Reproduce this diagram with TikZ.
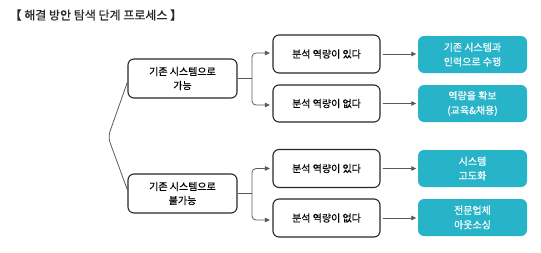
\documentclass[tikz,border=0pt]{standalone}
\usepackage{fontspec}
\setmainfont{Noto Sans CJK KR}
\newfontfamily\krfont{Noto Sans CJK KR}[FakeBold=0.45]
\newfontfamily\krtitle{Noto Sans CJK KR}[FakeBold=0.6]
\usetikzlibrary{arrows.meta}
\definecolor{teal1}{RGB}{40,180,200}
\definecolor{linegray}{RGB}{90,90,90}
\definecolor{boxline}{RGB}{40,40,40}
\tikzset{
  whitebox/.style={draw=boxline, line width=1.1pt, rounded corners=6pt, fill=white,
    align=center, inner sep=0pt, font=\krfont\fontsize{10}{14}\selectfont, text=black},
  tealbox/.style={fill=teal1, rounded corners=6pt, align=center, inner sep=0pt,
    minimum width=109pt, minimum height=37pt, font=\krfont\fontsize{10}{14.5}\selectfont, text=white},
  conn/.style={draw=linegray, line width=0.8pt},
  arr/.style={conn, -{Triangle[length=5pt,width=4.5pt]}},
}
\begin{document}
\begin{tikzpicture}[x=1pt,y=-1pt]
\useasboundingbox (0,0) rectangle (541,252);
\node[anchor=west, font=\krtitle\fontsize{12}{14}\selectfont, text={rgb,255:red,40;green,40;blue,40}] (title) at (6,15) {【 해결 방안 탐색 단계 프로세스 】};

\node[whitebox, minimum width=109pt, minimum height=39pt] (L1) at (182.5,78.5) {기존 시스템으로\\가능};
\node[whitebox, minimum width=109pt, minimum height=39pt] (L2) at (182.5,193.5) {기존 시스템으로\\불가능};

\node[whitebox, minimum width=107pt, minimum height=38pt] (M1) at (326.5,54) {분석 역량이 있다};
\node[whitebox, minimum width=107pt, minimum height=37pt] (M2) at (326.5,103.5) {분석 역량이 없다};
\node[whitebox, minimum width=107pt, minimum height=38pt] (M3) at (326.5,168.5) {분석 역량이 있다};
\node[whitebox, minimum width=107pt, minimum height=38pt] (M4) at (326.5,218) {분석 역량이 없다};

\node[tealbox] (R1) at (472.5,54.5) {기존 시스템과\\인력으로 수행};
\node[tealbox] (R2) at (472.5,103.5) {역량을 확보\\(교육\&채용)};
\node[tealbox] (R3) at (472.5,168.5) {시스템\\고도화};
\node[tealbox] (R4) at (472.5,217.5) {전문업체\\아웃소싱};

\coordinate (root) at (108,137);
\draw[conn, rounded corners=6pt] ([yshift=-3.5pt]L1.west) -- (root) -- ([yshift=3.5pt]L2.west);

\coordinate (j1) at (252,78.5);
\coordinate (j2) at (252,193.5);
\draw[conn] (L1.east) -- (j1);
\draw[conn] (L2.east) -- (j2);
\draw[arr, rounded corners=4pt, shorten >=2.5pt] (j1) |- ([yshift=1pt]M1.west);
\draw[arr, rounded corners=4pt, shorten >=2.5pt] (j1) |- ([yshift=-1.5pt]M2.west);
\draw[arr, rounded corners=4pt, shorten >=2.5pt] (j2) |- (M3.west);
\draw[arr, rounded corners=4pt, shorten >=2.5pt] (j2) |- ([yshift=-2pt]M4.west);

\draw[arr, shorten <=2pt, shorten >=1.5pt] (M1.east) -- (M1.east -| R1.west);
\draw[arr, shorten <=2pt, shorten >=1.5pt] (M2.east) -- (M2.east -| R2.west);
\draw[arr, shorten <=2pt, shorten >=1.5pt] (M3.east) -- (M3.east -| R3.west);
\draw[arr, shorten <=2pt, shorten >=1.5pt] (M4.east) -- (M4.east -| R4.west);
\end{tikzpicture}
\end{document}
